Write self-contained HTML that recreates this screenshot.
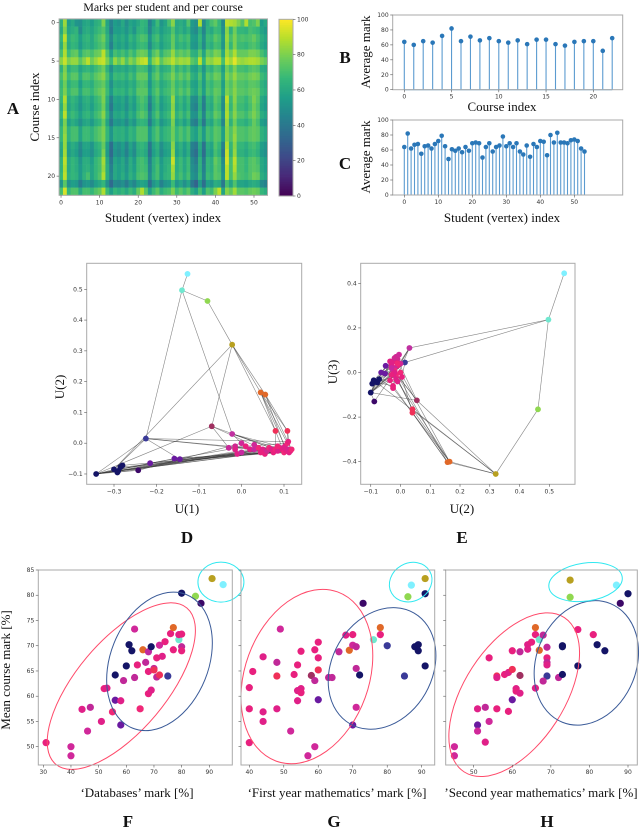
<!DOCTYPE html>
<html><head><meta charset="utf-8">
<style>
html,body{margin:0;padding:0;background:#fff;}
svg{display:block;}
.tk{font-family:"DejaVu Sans","Liberation Sans",sans-serif;font-size:6px;fill:#333;}
.lab{font-family:"Liberation Serif",serif;font-size:13px;fill:#111;}
.let{font-family:"Liberation Serif",serif;font-size:17px;font-weight:bold;fill:#111;}
</style></head>
<body>
<svg id="fig" width="640" height="829" viewBox="0 0 640 829" xmlns="http://www.w3.org/2000/svg">
<text x="163" y="11" text-anchor="middle" class="lab" style="font-size:12px">Marks per student and per course</text>
<text x="13" y="114" text-anchor="middle" class="let">A</text>
<text transform="translate(39,107) rotate(-90)" text-anchor="middle" class="lab">Course index</text>
<text x="163" y="222" text-anchor="middle" class="lab">Student (vertex) index</text>
<text x="345" y="63" text-anchor="middle" class="let">B</text>
<text transform="translate(370,52) rotate(-90)" text-anchor="middle" class="lab">Average mark</text>
<text x="502" y="111" text-anchor="middle" class="lab">Course index</text>
<text x="345" y="169" text-anchor="middle" class="let">C</text>
<text transform="translate(370,157) rotate(-90)" text-anchor="middle" class="lab">Average mark</text>
<text x="502" y="222" text-anchor="middle" class="lab">Student (vertex) index</text>
<text transform="translate(64,387) rotate(-90)" text-anchor="middle" class="lab">U(2)</text>
<text x="187" y="513" text-anchor="middle" class="lab">U(1)</text>
<text x="187" y="543" text-anchor="middle" class="let">D</text>
<text transform="translate(337,372) rotate(-90)" text-anchor="middle" class="lab">U(3)</text>
<text x="462" y="513" text-anchor="middle" class="lab">U(2)</text>
<text x="462" y="543" text-anchor="middle" class="let">E</text>
<text transform="translate(10,670) rotate(-90)" text-anchor="middle" class="lab">Mean course mark [%]</text>
<text x="137" y="797" text-anchor="middle" class="lab">‘Databases’ mark [%]</text>
<text x="128" y="827" text-anchor="middle" class="let">F</text>
<text x="337" y="797" text-anchor="middle" class="lab">‘First year mathematics’ mark [%]</text>
<text x="334" y="827" text-anchor="middle" class="let">G</text>
<text x="541" y="797" text-anchor="middle" class="lab">’Second year mathematics’ mark [%]</text>
<text x="547" y="827" text-anchor="middle" class="let">H</text>
</svg>
<script>
// ---------- data ----------
const heatRows = [
"63 85 55 60 52 50 58 60 55 62 65 80 58 45 55 52 60 50 58 55 60 66 64 44 56 68 52 58 70 82 60 62 58 72 54 50 88 48 62 70 75 66 48 90 88 86 80 72 88 70 72 80 55 60",
"60 80 58 62 65 48 60 62 58 64 68 72 60 42 56 55 58 52 60 52 64 66 62 46 60 64 55 60 62 72 60 64 58 64 52 48 62 46 64 60 68 66 50 82 64 78 66 66 64 70 68 66 58 54",
"66 90 62 68 66 56 64 66 60 68 72 78 64 48 62 58 62 56 66 60 68 72 70 52 66 70 58 64 66 76 64 70 66 70 56 54 66 50 68 66 74 70 54 84 70 80 70 72 70 72 76 70 62 58",
"62 84 60 66 64 54 62 64 60 66 70 74 62 44 60 56 60 54 62 58 66 68 66 48 62 66 56 62 64 76 62 66 62 68 54 52 64 48 66 62 70 68 52 82 66 80 68 68 66 70 72 68 60 56",
"70 88 68 74 76 62 72 74 70 76 78 90 72 56 70 66 70 64 72 66 76 78 76 58 72 78 64 72 74 84 72 76 72 76 64 62 74 58 76 72 80 78 60 86 78 88 76 76 76 80 80 78 70 64",
"82 92 80 84 84 74 82 90 78 84 90 92 80 68 84 76 84 72 82 76 86 90 92 66 82 88 74 82 84 90 82 86 84 86 74 70 90 66 84 82 88 88 70 92 86 96 86 84 86 88 88 86 80 76",
"64 80 62 68 68 58 64 66 62 68 72 78 64 50 62 60 62 58 64 60 70 70 68 52 64 72 60 64 66 76 64 70 64 70 58 56 66 52 68 64 72 70 56 78 70 80 70 70 68 72 74 72 62 60",
"70 82 68 74 74 62 72 72 68 74 78 82 70 56 68 66 68 62 70 64 76 76 76 56 70 76 64 70 72 80 70 76 70 76 64 60 72 56 74 70 78 76 60 82 76 84 76 76 74 78 80 78 68 64",
"66 78 62 68 68 56 66 66 62 70 72 76 66 50 62 60 62 58 64 60 70 72 70 52 66 70 60 64 68 76 66 70 64 70 58 56 68 54 70 66 72 72 56 78 72 80 72 72 70 74 74 72 64 60",
"68 80 66 72 72 60 70 70 66 72 76 80 68 54 66 64 66 60 68 62 74 74 74 56 68 74 62 68 70 78 68 74 68 74 62 58 70 56 72 68 76 74 58 80 74 82 74 74 72 76 78 76 66 62",
"66 88 60 66 62 54 62 64 58 66 70 80 62 44 58 56 60 52 62 56 68 72 68 46 62 70 56 62 66 84 62 68 60 68 50 48 64 44 66 62 74 70 50 90 68 82 70 70 66 72 80 74 60 56",
"62 84 58 64 60 52 60 62 56 64 68 78 60 40 56 54 58 50 60 54 66 70 66 42 60 68 54 60 64 82 60 66 58 66 48 44 62 42 64 60 72 68 48 86 66 80 68 68 64 70 78 72 58 54",
"66 90 62 68 64 56 64 66 60 68 72 82 64 46 60 58 62 54 64 58 70 74 70 48 64 72 58 64 68 84 64 70 62 70 52 50 66 46 68 64 76 72 52 88 70 82 72 72 68 74 80 74 62 58",
"60 80 56 62 58 50 58 60 54 62 66 76 58 40 54 52 56 48 58 52 64 66 64 42 58 66 52 58 62 80 58 64 56 64 46 42 60 40 62 58 70 66 46 84 64 78 66 66 62 68 76 70 56 52",
"66 82 64 70 70 58 68 68 64 70 74 80 66 52 64 62 64 58 66 62 72 72 72 54 66 72 60 66 68 78 66 72 66 72 60 56 68 54 70 66 74 72 56 82 72 82 72 72 70 74 76 74 64 60",
"66 84 64 70 70 58 68 68 64 70 74 80 66 52 64 62 64 58 66 62 72 72 72 54 66 72 60 66 68 78 66 72 66 72 60 56 68 54 70 66 74 72 56 82 72 84 72 72 70 74 76 74 64 60",
"60 84 56 62 58 48 58 58 52 62 66 76 56 36 54 50 56 46 58 50 64 66 62 40 58 64 50 58 60 82 58 64 56 64 44 40 60 38 62 58 72 66 44 88 66 82 66 66 62 68 70 66 56 52",
"58 86 54 60 56 46 56 56 50 60 64 80 54 34 52 48 54 44 56 48 62 64 60 38 56 62 48 56 58 84 56 62 54 62 42 36 58 36 60 56 70 64 40 92 64 84 64 64 60 66 68 64 54 50",
"64 90 60 66 62 52 62 62 56 66 70 86 60 40 58 54 60 50 62 54 68 70 66 44 62 68 54 62 64 92 62 68 60 68 48 42 64 42 66 62 76 70 48 94 70 90 70 70 66 72 74 70 60 56",
"64 88 60 66 62 54 62 64 58 66 70 84 62 44 60 56 60 52 62 56 68 70 68 46 62 70 56 62 66 86 62 68 60 68 50 46 64 44 66 62 74 70 50 90 70 88 70 70 66 72 74 72 60 56",
"66 90 62 66 64 54 64 70 58 66 72 88 62 46 60 56 62 54 64 58 70 72 70 48 64 70 56 64 66 84 64 70 62 70 52 48 66 46 68 64 74 72 52 90 70 84 72 70 68 72 78 76 62 58",
"52 74 50 56 54 42 52 54 48 56 60 66 50 34 48 46 50 42 52 46 56 58 56 36 52 58 44 52 54 68 52 58 50 58 40 32 54 36 56 52 62 60 40 70 58 72 58 58 56 60 62 60 48 44",
"70 94 66 72 72 60 70 70 66 72 76 88 68 56 66 62 66 60 68 62 76 88 74 56 68 74 62 68 70 80 68 74 68 74 62 56 70 56 72 68 80 90 58 82 76 86 74 74 72 76 78 76 66 62"
];
const courseMeans = [64,60,65,63,72,82,65,71,66,69,65,63,66,61,67,67,61,59,64,65,65,52,69];
const studentMeans = [64,82,62,67,68,55,65,66,62,68,72,79,65,48,61,59,62,57,64,59,69,70,69,50,64,69,58,64,66,78,65,69,64,69,58,54,66,51,68,64,72,71,53,80,70,83,70,70,69,73,74,72,62,58];
const markTicks = [0,20,40,60,80,100];
const courseTicks = [0,5,10,15,20];
const studentTicks = [0,10,20,30,40,50];

const nodeU1 = [-0.127,-0.14,-0.08,-0.022,0.045,0.056,0.08,0.108,-0.07,-0.022,-0.225,-0.342,-0.30,-0.29,-0.285,-0.28,-0.292,-0.243,-0.215,-0.158,-0.145,
 -0.03,-0.015,-0.01,0.0,0.01,0.02,0.03,0.04,0.05,0.055,0.06,0.065,0.07,0.075,0.08,0.085,0.09,0.095,0.1,0.102,0.105,0.108,0.11,0.112,0.115,0.118,0.11,0.03,0.0,-0.015,0.045,0.085,0.1];
const nodeU2 = [0.55,0.497,0.462,0.32,0.165,0.158,0.04,0.04,0.055,0.03,0.015,-0.1,-0.085,-0.09,-0.078,-0.072,-0.095,-0.088,-0.065,-0.05,-0.052,
 -0.015,-0.01,-0.035,0.0,-0.01,-0.02,-0.02,-0.015,-0.02,-0.035,-0.025,-0.015,-0.02,-0.03,-0.02,-0.025,-0.015,-0.02,-0.03,-0.01,-0.025,0.0,-0.02,-0.03,-0.025,-0.02,0.005,-0.005,-0.03,-0.02,-0.03,-0.01,-0.015];
const nodeU3 = [0.445,0.237,-0.165,-0.455,-0.40,-0.402,-0.165,-0.18,-0.125,0.11,0.045,-0.09,-0.04,-0.035,-0.045,-0.03,-0.05,-0.13,0.0,0.03,-0.005,
 0.07,0.06,0.05,0.04,0.03,0.0,0.02,-0.01,0.005,-0.035,0.01,-0.02,0.06,0.03,0.0,-0.01,0.07,0.05,0.02,-0.04,-0.06,0.0,0.065,0.04,-0.07,0.01,-0.02,0.08,0.02,0.0,-0.01,0.04,-0.03];
const nodeColor = ["#7ff0ff","#70e8d0","#90d850","#b8a020","#e06828","#e06828","#f03058","#f03058","#a03060","#c030a0","#3a3a98","#141466","#141466","#141466","#141466","#141466","#141466","#3c0868","#6a1aa0","#6a1aa0","#6a1aa0",
 "#c82898","#d02890","#e02088","#d02898","#e8207e","#e02088","#c828a0","#f02878","#e02088","#e8207e","#d02890","#f02878","#e02088","#e8207e","#f02878","#e02088","#d02890","#e8207e","#f02878","#e02088","#e8207e","#f02878","#d02890","#e02088","#e8207e","#f02878","#e8207e","#d02898","#c828a0","#e02088","#e8207e","#f02878","#e02088"];
const edgeFrom = [1,2,3,2,2,4,4,4,4,5,5,6,6,5,11,11,11,11,11,12,12,12,12,12,12,12,13,14,15,16,17,19,20,21,9,9,9,9,10,10,10,10,22,23,24,26,27,28,29,7,8,7,8,5,6,4,12,13,14,12,11,18,19,20];
const edgeTo   = [2,3,4,11,10,5,6,9,7,7,8,8,47,43,12,13,21,30,40,13,18,19,20,36,44,47,33,38,42,46,30,26,35,45,22,30,40,12,25,36,47,42,44,46,40,43,47,45,41,40,46,36,43,41,42,13,29,39,41,53,48,25,34,46];

const axisD_x = [-0.3,-0.2,-0.1,0.0,0.1];
const axisD_y = [-0.1,0.0,0.1,0.2,0.3,0.4,0.5];
const axisE_x = [-0.1,0.0,0.1,0.2,0.3,0.4,0.5];
const axisE_y = [-0.4,-0.2,0.0,0.2,0.4];

const meanTicks = [50,55,60,65,70,75,80,85];
const fTicks = [30,40,50,60,70,80,90];
const gTicks = [40,50,60,70,80,90];
const hTicks = [50,60,70,80,90];

const fX = [31,40,40,44,47,46,51,52,53,55,56,56,58,58,59,60,61,62,63,63,64,65,66,67,68,68,68,69,69,70,70,71,71,72,72,73,74,75,76,77,77,79,79,80,80,80,80,85,87,91,95];
const fY = [50.8,50,48.2,57.4,57.8,53.1,55,61.5,61.6,56.9,59.2,64.2,59.1,54.3,63.1,66,70.2,69,73.3,63.7,66.2,57.5,69.2,66.7,68.8,64.9,60.5,61.2,69.8,65.5,65.2,67.6,63.8,64.2,70.1,67.9,70.8,64,72.4,73.6,69.2,71.2,72.2,72.3,69.8,69,80.4,79.8,78.4,83.3,82.1];
const fC = ["#e8207e","#d0289a","#d0289a","#e02088","#c02898","#d0289a","#e02088","#e8207e","#e02088","#f02878","#6a1aa0","#141466","#e02088","#6a1aa0","#c02898","#141466","#141466","#141466","#d0289a","#c02898","#e8207e","#f02878","#e06828","#c02898","#c028a0","#e8207e","#e8207e","#e02088","#141466","#c02898","#f03058","#e8207e","#c02898","#f03058","#d0289a","#e02088","#e8207e","#3a3a98","#e8207e","#e06828","#e8207e","#70e8d0","#e02088","#e8207e","#c02898","#e8207e","#141466","#90d850","#3c0868","#b8a020","#7ff0ff"];

const gX = [40,41,40,40,44,44,44,48,48,48,49,52,53,54,54,54,55,55,55,57,58,59,59,59,60,60,60,60,63,64,66,68,69,70,70,71,71,71,70,72,73,76,78,78,80,85,88,89,89,91,86,87,91,91];
const gY = [61.7,64.9,57.5,50.8,67.8,56.9,55,66.7,64,57.5,73.3,53.1,64.3,66.2,61.1,59.1,61.5,60.7,68.9,48.2,64.1,69.2,63.1,50,70.7,67.6,65.2,59.3,63.7,63.7,68.8,72.1,69.1,72.2,70.1,69.8,65.5,57.8,54.3,64.2,78.4,71.2,73.6,72.2,70,64,69.8,70.2,69,66,79.7,82,83.3,80.3];
const gC = ["#e8207e","#e8207e","#e8207e","#e8207e","#e02088","#e02088","#e02088","#c02898","#f03058","#e02088","#d0289a","#d0289a","#e8207e","#e8207e","#e02088","#e02088","#e02088","#e8207e","#e8207e","#d0289a","#a03060","#e8207e","#c02898","#d0289a","#e8207e","#e8207e","#f03058","#6a1aa0","#c02898","#c02898","#c02898","#e02088","#e06828","#e8207e","#d0289a","#c02898","#c02898","#d0289a","#6a1aa0","#141466","#3c0868","#70e8d0","#e06828","#e8207e","#3a3a98","#3a3a98","#141466","#141466","#141466","#141466","#90d850","#7ff0ff","#b8a020","#141466"];

const hX = [45,45,51,51,51,53,53,54,54,56,56,56,58,59,59,60,60,60,61,61,62,62,62,64,64,65,66,66,66,67,67,68,69,69,69,69,69,68,72,73,73,73,75,75,77,77,81,82,84,87,88,90];
const hY = [50,48.2,57.5,54.3,53.1,57.8,50.9,67.6,55,64,63.7,57.5,64.3,64.7,57,65.3,69,59.3,61.5,61,60.6,64.1,68.8,70.2,69.3,70.7,73.6,72.2,61.6,71.2,69.1,72.1,69.7,67.6,66.7,66.2,64,63,63.7,69.8,70,64.3,83,79.6,73.2,66,72.2,70.2,69,82,78.4,80.3];
const hC = ["#d0289a","#d0289a","#e02088","#6a1aa0","#d0289a","#c02898","#e02088","#e8207e","#d0289a","#f03058","#e02088","#e8207e","#e8207e","#e02088","#e8207e","#f03058","#e8207e","#6a1aa0","#e02088","#e8207e","#e02088","#a03060","#c02898","#e02088","#e02088","#e8207e","#e06828","#e8207e","#e02088","#70e8d0","#e06828","#c02898","#c02898","#e8207e","#c02898","#e02088","#3a3a98","#c02898","#c02898","#141466","#141466","#141466","#b8a020","#90d850","#e8207e","#141466","#e8207e","#141466","#141466","#7ff0ff","#3c0868","#141466"];

// ellipse centres in data coords: [cx, cy]
const fEllCenter = [[58.2,62.0],[72.0,66.9],[94.2,82.6]];
const gEllCenter = [[56.7,63.9],[78.5,65.5],[86.8,82.6]];
const hEllCenter = [[60.5,60.3],[79.2,66.6],[79.0,82.6]];

// ---------- drawing ----------
const NS="http://www.w3.org/2000/svg";
const svg=document.getElementById('fig');
function mk(tag,attrs,parent){const e=document.createElementNS(NS,tag);for(const k in attrs)e.setAttribute(k,attrs[k]);(parent||svg).appendChild(e);return e;}
function lin(d0,d1,p0,p1){return v=>p0+(v-d0)*(p1-p0)/(d1-d0);}
const vir=[[68,1,84],[72,40,120],[62,74,137],[49,104,142],[38,130,142],[31,158,137],[53,183,121],[109,205,89],[180,222,44],[253,231,37]];
function viridis(t){t=Math.max(0,Math.min(1,t));const s=t*9,i=Math.min(8,Math.floor(s)),f=s-i;const a=vir[i],b=vir[i+1];return `rgb(${Math.round(a[0]+(b[0]-a[0])*f)},${Math.round(a[1]+(b[1]-a[1])*f)},${Math.round(a[2]+(b[2]-a[2])*f)})`;}
function fmt(v){const s=v.toFixed(1);return v<0?'\u2212'+s.slice(1):s;}

function frame(x0,y0,x1,y1,name){
  const r=mk('rect',{x:x0,y:y0,width:x1-x0,height:y1-y0,fill:'none',stroke:'#aaa','stroke-width':1});
  
  
}
function xTicks(vals,sc,yb,name,labels){
  vals.forEach((v,i)=>{
    const x=sc(v);
    const l=mk('line',{x1:x,x2:x,y1:yb,y2:yb+2.5,stroke:'#555','stroke-width':0.6});
    
    
    const t=mk('text',{x:x,y:yb+9,'text-anchor':'middle',class:'tk'});
    t.textContent=labels?labels[i]:String(v);
    
    
  });
}
function yTicks(vals,sc,xl,name,labels,show){
  vals.forEach((v,i)=>{
    const y=sc(v);
    const l=mk('line',{x1:xl-2.5,x2:xl,y1:y,y2:y,stroke:'#555','stroke-width':0.6});
    
    
    if(show!==false){
      const t=mk('text',{x:xl-4,y:y+2,'text-anchor':'end',class:'tk'});
      t.textContent=labels?labels[i]:String(v);
      
      
    }
  });
}

// Panel A heatmap
const hmx=lin(-0.5,53.5,59.1,267.5), hmy=lin(-0.5,22.5,18.9,195.3);
heatRows.forEach((row,ri)=>{
  row.trim().split(/\s+/).map(Number).forEach((v,ci)=>{
    const c=mk('rect',{x:hmx(ci-0.5),y:hmy(ri-0.5),width:hmx(ci+0.5)-hmx(ci-0.5)+0.3,height:hmy(ri+0.5)-hmy(ri-0.5)+0.3,fill:viridis(v/100)});
    
    
  });
});
frame(59.1,18.9,267.5,195.3,'heatmap-frame');
xTicks(studentTicks,hmx,195.3,'heatmap-x');
yTicks(courseTicks,hmy,59.1,'heatmap-y');
// colorbar
const cby=lin(0,100,196,19.3);
for(let k=0;k<100;k++){
  const r=mk('rect',{x:279,y:cby(k+1),width:14,height:cby(k)-cby(k+1)+0.4,fill:viridis((k+0.5)/100)});
  
  
}
frame(279,19.3,293,196,'colorbar-frame');
markTicks.forEach(v=>{
  const y=cby(v);
  const l=mk('line',{x1:293,x2:295.5,y1:y,y2:y,stroke:'#555','stroke-width':0.6});
  
  
  const t=mk('text',{x:297,y:y+2,class:'tk'});
  t.textContent=String(v);
  
  
});

// Panel B / C stems
function stems(vals,sx,sy,name){
  vals.forEach((v,i)=>{
    const l=mk('line',{x1:sx(i),x2:sx(i),y1:sy(0),y2:sy(v),stroke:'#5b9bd0','stroke-width':1.1});
    
    
    const c=mk('circle',{cx:sx(i),cy:sy(v),r:2.3,fill:'#2a77b8'});
    
    
  });
  const b=mk('line',{x1:sx(0),x2:sx(vals.length-1),y1:sy(0),y2:sy(0),stroke:'#5b9bd0','stroke-width':1});
  
  
}
const bx=lin(0,22,404.3,612.2), by=lin(0,100,89.7,15);
stems(courseMeans,bx,by,'course-mean');
frame(392.7,15,622.7,89.7,'b-frame');
xTicks(courseTicks,bx,89.7,'b-x');
yTicks(markTicks,by,392.7,'b-y');
const cx=lin(0,50,404.3,574.3), cy=lin(0,100,195,120);
stems(studentMeans,cx,cy,'student-mean');
frame(392.7,120,622.7,195,'c-frame');
xTicks(studentTicks,cx,195,'c-x');
yTicks(markTicks,cy,392.7,'c-y');

// Panel D / E graph embeddings
function graph(X,Y,sx,sy,name){
  edgeFrom.forEach((a,i)=>{
    const b=edgeTo[i]-1;a=a-1;
    const l=mk('line',{x1:sx(X[a]),y1:sy(Y[a]),x2:sx(X[b]),y2:sy(Y[b]),stroke:'#333','stroke-width':0.6,'stroke-opacity':0.6});
    
    
  });
  X.forEach((x,i)=>{
    const c=mk('circle',{cx:sx(x),cy:sy(Y[i]),r:2.9,fill:nodeColor[i]});
    
    
  });
}
const dx=lin(0,0.1,241.5,284), dy=lin(0,0.5,443.2,289.3);
graph(nodeU1,nodeU2,dx,dy,'d');
frame(86.7,263.3,301.7,484.3,'d-frame');
xTicks(axisD_x,dx,484.3,'d-x',axisD_x.map(fmt));
yTicks(axisD_y,dy,86.7,'d-y',axisD_y.map(fmt));
const ex=lin(0,0.5,400.5,549.3), ey=lin(0,0.4,372.5,283.3);
graph(nodeU2,nodeU3,ex,ey,'e');
frame(360.7,263.3,575,484.3,'e-frame');
xTicks(axisE_x,ex,484.3,'e-x',axisE_x.map(fmt));
yTicks(axisE_y,ey,360.7,'e-y',axisE_y.map(fmt));

// Panels F/G/H scatter
const sy=lin(50,85,746.7,570);
function scatter(X,Y,C,sx,name){
  X.forEach((x,i)=>{
    const c=mk('circle',{cx:sx(x),cy:sy(Y[i]),r:3.6,fill:C[i]});
    
    
  });
}
function ellipses(cent,sx,specs,name){
  const cols=['#ff4a6a','#3a5a98','#30e8f0'];
  cent.forEach((c,i)=>{
    const px=sx(c[0]),py=sy(c[1]),s=specs[i];
    const e=mk('ellipse',{cx:px,cy:py,rx:s[0],ry:s[1],transform:`rotate(${s[2]} ${px} ${py})`,fill:'none',stroke:cols[i],'stroke-width':1});
    
    
  });
}
const fx=lin(30,90,43.3,209.3), gx=lin(40,90,249.3,421.7), hx=lin(50,90,473.7,628);
scatter(fX,fY,fC,fx,'f');
ellipses(fEllCenter,fx,[[102,45,-50],[72,49,-68],[23,20,0]],'f');
frame(38.3,570,232.3,765,'f-frame');
xTicks(fTicks,fx,765,'f-x');
yTicks(meanTicks,sy,38.3,'f-y');
scatter(gX,gY,gC,gx,'g');
ellipses(gEllCenter,gx,[[90,62,-70],[64,50,-60],[22,19,-30]],'g');
frame(241,570,434.7,765,'g-frame');
xTicks(gTicks,gx,765,'g-x');
yTicks(meanTicks,sy,241,'g-y',null,false);
scatter(hX,hY,hC,hx,'h');
ellipses(hEllCenter,hx,[[92,50,-57],[64,50,-68],[37,19,-8]],'h');
frame(445.7,570,637.3,765,'h-frame');
xTicks(hTicks,hx,765,'h-x');
yTicks(meanTicks,sy,445.7,'h-y',null,false);
</script>
</body></html>
